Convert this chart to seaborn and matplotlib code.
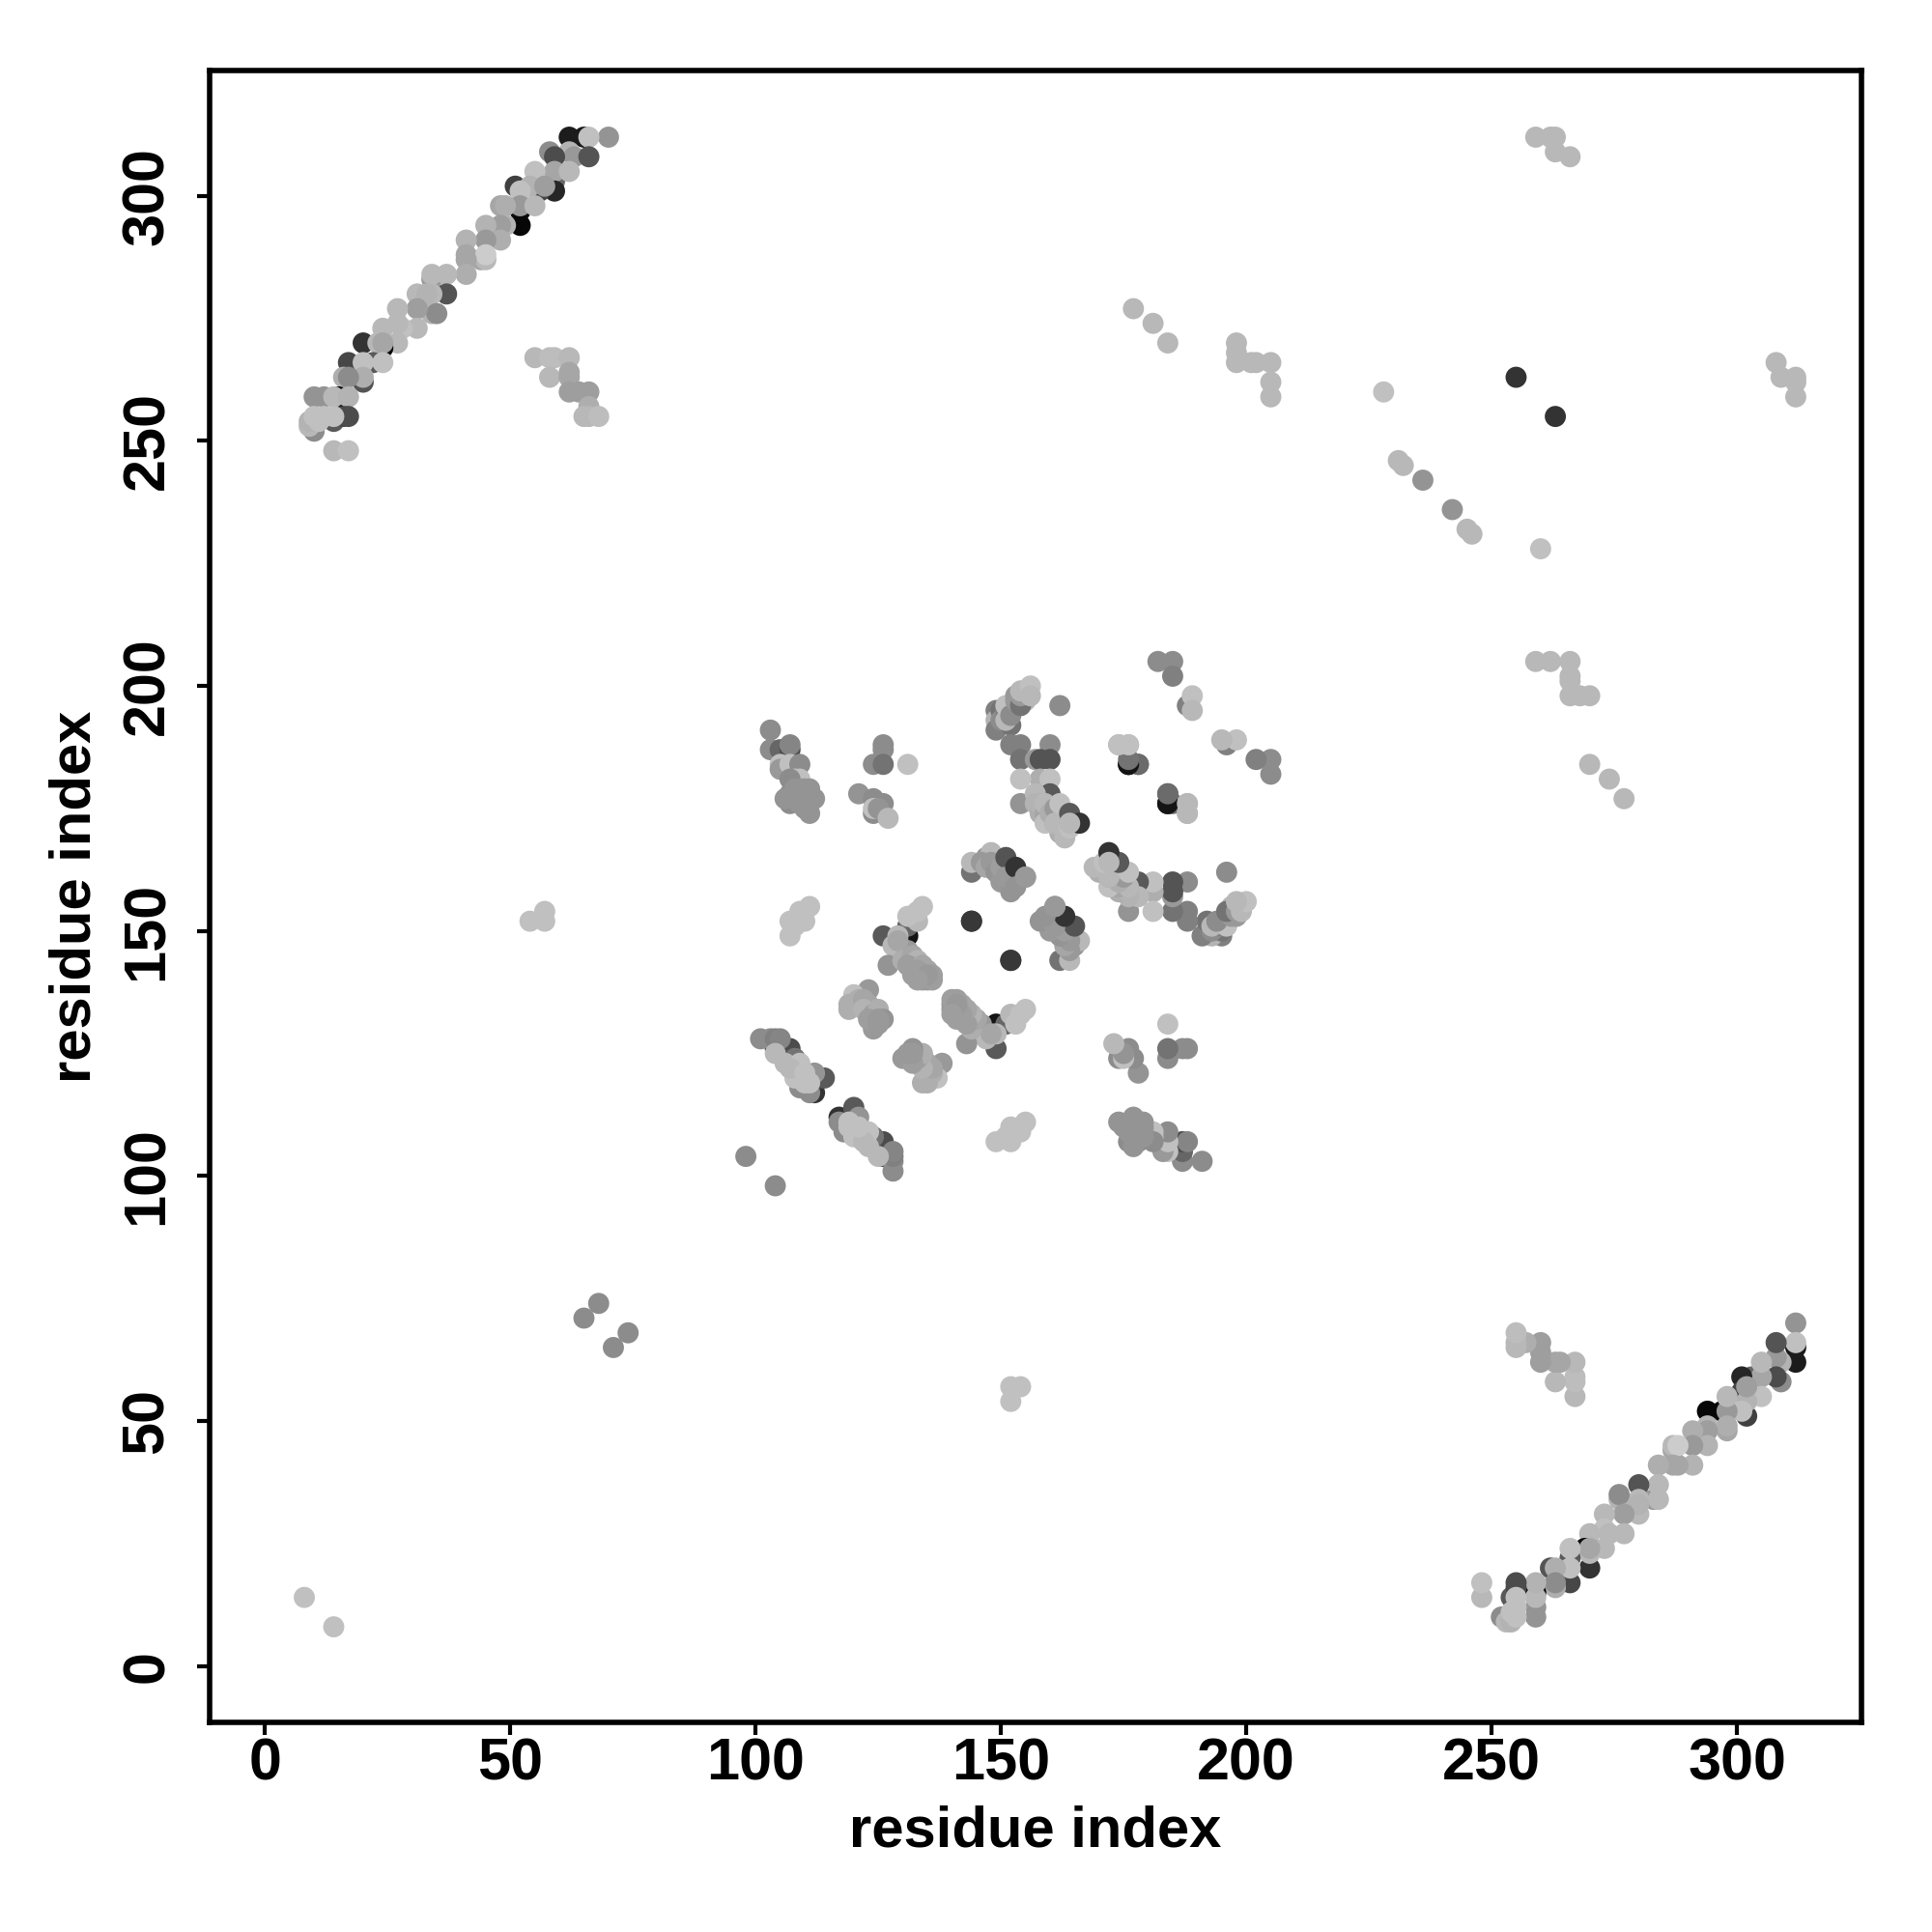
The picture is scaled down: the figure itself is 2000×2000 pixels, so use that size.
import matplotlib
matplotlib.use("Agg")
import matplotlib.pyplot as plt
import pandas as pd
import seaborn as sns

band_i = [70, 65, 62, 66, 58, 62, 63, 59, 66, 59, 59, 55, 62, 59, 51, 56, 54, 57, 52,
          52, 52, 52, 55, 48, 49, 49, 48, 45, 48, 45, 41, 41, 44, 45, 45, 41, 41,
          34, 34, 37, 37, 34, 31, 33, 34, 35, 31, 27, 31, 28, 27, 24,
          27, 20, 24, 23, 24, 22, 17, 24, 20, 20, 20, 16, 17,
          15, 10, 12, 14, 17, 10, 14, 16, 17, 9, 9, 10, 11, 12, 14, 14, 17]
band_j = [312, 312, 312, 312, 309, 309, 308, 308, 308, 303, 305, 305, 305, 301, 302, 301, 302, 302, 301,
          297, 294, 298, 298, 298, 298, 294, 294, 294, 291, 291, 291, 288, 287, 287, 288, 287, 284,
          283, 284, 284, 280, 280, 280, 280, 276, 276, 277, 277, 273, 273, 274, 273,
          270, 270, 269, 270, 270, 266, 266, 266, 266, 262, 263, 263, 263,
          259, 259, 259, 259, 259, 252, 254, 255, 255, 253, 254, 255, 254, 255, 255, 248, 248]
band_g = [.58, .10, .11, .75, .55, .70, .60, .30, .33, .40, .65, .75, .72, .15, .25, .27, .70, .62, .75,
          .05, .03, .60, .72, .65, .68, .70, .62, .70, .68, .60, .70, .65, .65, .72, .80, .65, .68,
          .60, .72, .72, .33, .72, .72, .70, .70, .55, .62, .72, .72, .75, .72, .72,
          .72, .20, .03, .72, .65, .35, .28, .75, .75, .33, .68, .68, .55,
          .05, .58, .58, .72, .70, .55, .35, .28, .30, .72, .70, .75, .75, .75, .75, .72, .75]

far_i = [55, 58, 59, 62, 58, 62, 62, 62, 64, 66, 66, 65, 66, 68,
         8, 65, 68, 54, 57, 57, 98,
         177, 181, 184, 198, 198, 198, 201, 202, 205, 205, 205,
         228, 231, 232, 236, 255, 259, 262, 263, 263, 266]
far_j = [267, 267, 267, 267, 263, 264, 263, 260, 260, 260, 257, 255, 255, 255,
         14, 71, 74, 152, 152, 154, 104,
         277, 274, 270, 270, 268, 266, 266, 266, 266, 262, 259,
         260, 246, 245, 242, 263, 312, 312, 312, 309, 308]
far_g = [.72, .74, .74, .72, .72, .65, .65, .62, .62, .62, .68, .72, .72, .74,
         .75, .55, .55, .75, .75, .75, .55,
         .72, .72, .72, .72, .72, .72, .72, .72, .72, .72, .72,
         .75, .72, .72, .58, .20, .72, .72, .72, .72, .72]

core_i = [103, 103, 105, 107, 107, 105, 105, 107, 109, 108, 109, 107, 107, 107, 108, 106, 110, 108, 109, 110, 111, 110, 111, 109, 112, 111,
          126, 126, 124, 126, 131, 121, 124, 126, 124, 124, 125, 127,
          107, 108, 107, 110, 109, 111,
          126, 131, 131, 129, 128, 127, 131, 129, 130, 132, 133, 131, 133, 134, 135, 136, 132, 133, 133, 134, 135, 136, 135, 133, 131, 133, 134,
          144, 152, 162,
          149, 149, 149, 150, 150, 151, 152, 151, 151, 152, 153, 153, 155, 154, 154, 155, 154, 156, 156,
          152, 154, 154, 160, 157, 158, 160,
          154, 158, 160, 154, 160, 157, 157, 158, 158, 159, 159, 159, 160, 161, 161, 162, 162, 163, 163, 161, 163, 162, 164, 164, 166, 164,
          144, 144, 147, 148, 149, 146, 147, 148, 149, 150, 150, 152, 152, 151, 151, 153, 153, 155, 155,
          112, 111, 109, 104, 107, 106, 113, 114, 112, 101, 103, 104, 105, 108, 104, 106, 108, 109, 110, 109, 111, 107, 110,
          123, 120, 120, 119, 119, 121, 122, 123, 122, 124, 125, 124, 126, 124, 123, 125, 125,
          176, 176, 178, 174, 176, 184, 184, 185, 188, 188,
          182, 185, 185, 188, 189, 189]
core_j = [191, 187, 187, 187, 188, 184, 183, 184, 184, 181, 181, 181, 176, 178, 177, 177, 178, 179, 179, 179, 179, 175, 174, 176, 177, 177,
          188, 187, 184, 184, 184, 178, 177, 176, 174, 175, 175, 173,
          149, 151, 152, 152, 154, 155,
          149, 149, 151, 149, 147, 143, 146, 148, 144, 145, 144, 143, 152, 143, 142, 141, 141, 141, 142, 140, 140, 140, 141, 140, 153, 154, 155,
          152, 144, 196,
          195, 193, 191, 195, 193, 195, 192, 193, 196, 194, 197, 198, 197, 196, 198, 199, 199, 200, 198,
          188, 188, 185, 188, 185, 185, 185,
          176, 181, 181, 181, 178, 178, 176, 174, 176, 174, 176, 172, 174, 175, 172, 170, 172, 170, 170, 172, 169, 176, 174, 171, 172, 172,
          162, 164, 165, 166, 163, 164, 163, 164, 162, 160, 163, 160, 158, 165, 161, 163, 159, 161, 161,
          117, 117, 118, 126, 126, 125, 120, 120, 121, 128, 128, 128, 128, 124, 125, 123, 120, 123, 119, 121, 119, 122, 121,
          138, 137, 135, 135, 134, 136, 136, 135, 134, 133, 134, 131, 132, 130, 132, 131, 132,
          184, 184, 184, 188, 188, 178, 176, 176, 176, 174,
          205, 205, 202, 196, 198, 195]
core_g = [.55, .55, .40, .30, .52, .75, .60, .75, .55, .75, .75, .55, .55, .55, .58, .58, .58, .58, .58, .58, .58, .58, .58, .58, .58, .58,
          .55, .55, .55, .45, .75, .58, .55, .55, .55, .75, .58, .72,
          .75, .75, .75, .75, .75, .75,
          .35, .08, .40, .72, .72, .58, .60, .65, .68, .65, .70, .62, .72, .65, .65, .62, .62, .62, .62, .60, .60, .62, .60, .62, .75, .75, .75,
          .22, .22, .55,
          .50, .70, .50, .45, .55, .50, .45, .72, .75, .55, .60, .60, .72, .45, .60, .75, .72, .75, .72,
          .50, .50, .45, .55, .60, .33, .33,
          .58, .68, .75, .75, .35, .72, .70, .68, .70, .65, .72, .75, .68, .60, .65, .68, .65, .65, .70, .72, .72, .75, .35, .75, .20, .72,
          .45, .72, .58, .72, .58, .60, .65, .60, .58, .60, .62, .60, .58, .33, .60, .20, .58, .58, .60,
          .20, .55, .55, .20, .30, .30, .30, .35, .58, .55, .55, .50, .52, .45, .72, .72, .75, .75, .75, .75, .75, .72, .75,
          .60, .75, .70, .68, .68, .68, .65, .65, .70, .62, .68, .60, .58, .60, .62, .60, .60,
          .43, .08, .42, .72, .72, .42, .08, .45, .75, .75,
          .55, .55, .50, .50, .75, .72]

tick_vals = [0, 50, 100, 150, 200, 250, 300]

res_i = band_i + far_i + core_i
res_j = band_j + far_j + core_j
grey = band_g + far_g + core_g

contacts = pd.DataFrame({
    "x": res_i + res_j,
    "y": res_j + res_i,
    "grey": grey + grey,
})

sns.set_style("white")
plt.rcParams["font.family"] = ["Liberation Sans", "DejaVu Sans"]
plt.rcParams["font.weight"] = "bold"
plt.rcParams["text.color"] = "black"
plt.rcParams["axes.labelcolor"] = "black"
plt.rcParams["xtick.color"] = "black"
plt.rcParams["ytick.color"] = "black"

fig = plt.figure(figsize=(10, 10), dpi=200)
ax = fig.add_axes([0.1085, 0.1085, 0.855, 0.855])

sns.scatterplot(data=contacts, x="x", y="y", hue="grey", palette="gray", hue_norm=(0, 1),
                s=62, linewidth=0, legend=False, ax=ax)

ax.set_xlim(-11.3, 325.4)
ax.set_ylim(-11.5, 325.6)
ax.set_xticks(tick_vals)
ax.set_yticks(tick_vals)
ax.tick_params(axis="both", length=4.6, width=1.5, labelsize=22, bottom=True, left=True)
ax.tick_params(axis="x", pad=1)
ax.tick_params(axis="y", pad=8)
plt.setp(ax.get_yticklabels(), rotation=90, va="center")
ax.set_xlabel("residue index", fontsize=21.5, fontweight="bold", labelpad=4.5)
ax.set_ylabel("residue index", fontsize=21.5, fontweight="bold", labelpad=7)
for side in ax.spines.values():
    side.set_linewidth(2)
    side.set_color("black")

fig.savefig("out.png", dpi=200)
